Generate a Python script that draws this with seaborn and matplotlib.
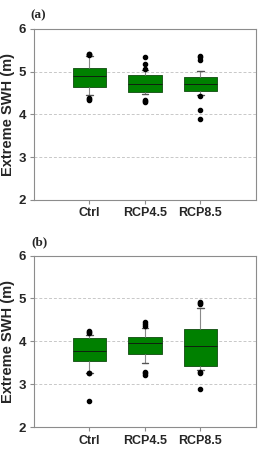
import pandas as pd
import matplotlib
matplotlib.use("Agg")
import matplotlib.pyplot as plt
import seaborn as sns

sns.set_theme(style="white")
plt.rcParams['font.family'] = ['Liberation Sans', 'DejaVu Sans']

scenarios = ['Ctrl', 'RCP4.5', 'RCP8.5']

# annual extreme SWH samples (m), panel (a)
a_ctrl = [4.34, 4.36, 4.39, 4.44, 4.52, 4.58, 4.62, 4.65, 4.65, 4.70, 4.74,
          4.78, 4.82, 4.85, 4.88, 4.90, 4.92, 4.95, 4.98, 5.01, 5.04, 5.06,
          5.08, 5.08, 5.14, 5.22, 5.30, 5.37, 5.39, 5.40, 5.41]
a_rcp45 = [4.28, 4.31, 4.34, 4.47, 4.48, 4.49, 4.50, 4.51, 4.51, 4.55, 4.59,
           4.62, 4.65, 4.67, 4.69, 4.71, 4.73, 4.76, 4.79, 4.82, 4.86, 4.89,
           4.92, 4.92, 4.96, 4.99, 5.02, 5.04, 5.06, 5.18, 5.35]
a_rcp85 = [3.88, 4.09, 4.43, 4.44, 4.47, 4.50, 4.53, 4.55, 4.55, 4.58, 4.61,
           4.63, 4.65, 4.67, 4.69, 4.70, 4.72, 4.74, 4.76, 4.79, 4.82, 4.85,
           4.88, 4.88, 4.92, 4.96, 4.99, 5.02, 5.27, 5.34, 5.36]

# panel (b)
b_ctrl = [2.60, 3.25, 3.26, 3.27, 3.36, 3.44, 3.50, 3.55, 3.55, 3.60, 3.64,
          3.68, 3.71, 3.74, 3.76, 3.78, 3.81, 3.85, 3.89, 3.93, 3.98, 4.03,
          4.07, 4.07, 4.09, 4.11, 4.13, 4.15, 4.20, 4.22, 4.24]
b_rcp45 = [3.21, 3.25, 3.29, 3.49, 3.56, 3.62, 3.67, 3.70, 3.70, 3.75, 3.80,
           3.85, 3.89, 3.92, 3.94, 3.95, 3.97, 3.99, 4.01, 4.03, 4.05, 4.07,
           4.09, 4.09, 4.14, 4.20, 4.25, 4.30, 4.35, 4.40, 4.45]
b_rcp85 = [2.88, 3.25, 3.29, 3.33, 3.36, 3.39, 3.41, 3.43, 3.43, 3.52, 3.60,
           3.67, 3.74, 3.80, 3.85, 3.88, 3.94, 4.00, 4.07, 4.14, 4.20, 4.25,
           4.29, 4.29, 4.45, 4.58, 4.68, 4.77, 4.86, 4.89, 4.91]

yticks = [2, 3, 4, 5, 6]


def to_df(groups):
    rows = []
    for name, vals in zip(scenarios, groups):
        rows += [(name, v) for v in vals]
    return pd.DataFrame(rows, columns=['scenario', 'swh'])


panels = [('(a)', to_df([a_ctrl, a_rcp45, a_rcp85])),
          ('(b)', to_df([b_ctrl, b_rcp45, b_rcp85]))]

fig = plt.figure(figsize=(2.59, 4.5), dpi=100)
boxes = [[0.131, 0.556, 0.857, 0.380], [0.131, 0.051, 0.857, 0.381]]
label_pos = [(0.116, 0.960), (0.120, 0.455)]

for (label, df), rect, lpos in zip(panels, boxes, label_pos):
    ax = fig.add_axes(rect)
    for y in [3, 4, 5]:
        ax.axhline(y, color='#c8c8c8', lw=0.7, ls=(0, (3, 2)), zorder=0)
    sns.boxplot(df, x='scenario', y='swh', ax=ax, order=scenarios,
                whis=(10, 90), width=0.6, color='#008000', saturation=1,
                linewidth=0.7,
                boxprops=dict(facecolor='#008000', edgecolor='#1f5a1f'),
                medianprops=dict(color='#102010', lw=0.7),
                whiskerprops=dict(color='#8a8a8a', lw=0.8),
                capprops=dict(color='#555555', lw=1.0),
                flierprops=dict(marker='o', markersize=3.0,
                                markerfacecolor='black',
                                markeredgecolor='black'),
                capwidths=0.12)
    ax.set_xlim(-1, 3)
    ax.set_ylim(2, 6)
    ax.set_yticks(yticks)
    ax.set_yticklabels([str(t) for t in yticks], fontweight='bold', fontsize=9.5)
    ax.set_xticks(range(len(scenarios)))
    ax.set_xticklabels(scenarios, fontweight='bold', fontsize=9)
    ax.set_xlabel('')
    ax.set_ylabel('Extreme SWH (m)', fontweight='bold', fontsize=10.5, labelpad=3)
    for sp in ax.spines.values():
        sp.set_color('#8c8c8c')
        sp.set_linewidth(0.8)
    ax.tick_params(axis='both', direction='out', length=3, width=0.8,
                   color='#8c8c8c', pad=2.5, left=True, bottom=True)
    fig.text(lpos[0], lpos[1], label,
             fontsize=9.5, fontweight='bold', family='Liberation Serif')

fig.savefig('out.png', dpi=100)
